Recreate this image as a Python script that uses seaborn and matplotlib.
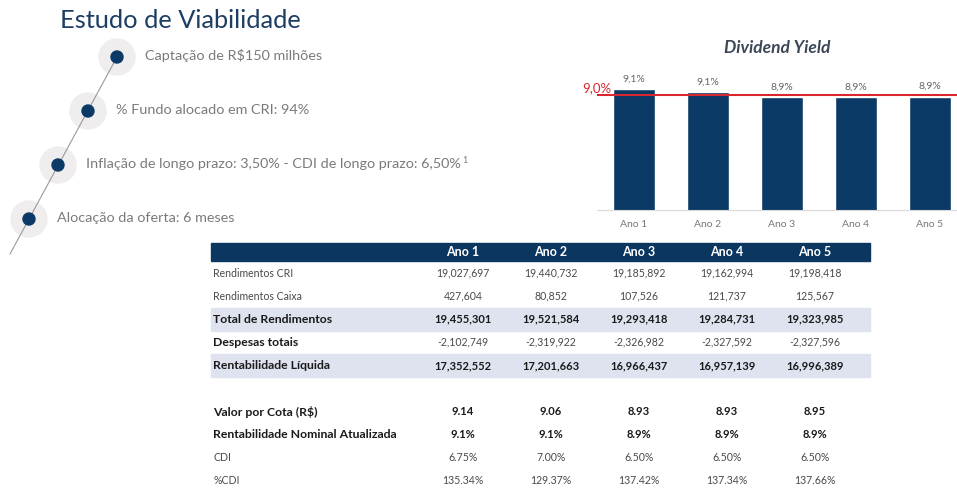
import matplotlib
matplotlib.use("Agg")
import matplotlib.pyplot as plt
import seaborn as sns
from matplotlib.patches import Circle, Rectangle

# --- DADOS ---
anos = ["Ano 1", "Ano 2", "Ano 3", "Ano 4", "Ano 5"]
dividend_yield = [9.14, 9.06, 8.93, 8.93, 8.95]
dy_rotulos = ["9,1%", "9,1%", "8,9%", "8,9%", "8,9%"]
dy_meta = 9.0
dy_meta_rotulo = "9,0%"

premissas = [
    "Captação de R$150 milhões",
    "% Fundo alocado em CRI: 94%",
    "Inflação de longo prazo: 3,50% - CDI de longo prazo: 6,50%",
    "Alocação da oferta: 6 meses",
]
nota_premissa = 2  # premissa com nota de rodape "1"

linhas_tabela = [
    "Rendimentos CRI", "Rendimentos Caixa", "Total de Rendimentos",
    "Despesas totais", "Rentabilidade Líquida", "",
    "Valor por Cota (R$)", "Rentabilidade Nominal Atualizada", "CDI", "%CDI",
]
rend_cri = ["19,027,697", "19,440,732", "19,185,892", "19,162,994", "19,198,418"]
rend_caixa = ["427,604", "80,852", "107,526", "121,737", "125,567"]
total_rend = ["19,455,301", "19,521,584", "19,293,418", "19,284,731", "19,323,985"]
despesas = ["-2,102,749", "-2,319,922", "-2,326,982", "-2,327,592", "-2,327,596"]
rent_liquida = ["17,352,552", "17,201,663", "16,966,437", "16,957,139", "16,996,389"]
valor_cota = ["9.14", "9.06", "8.93", "8.93", "8.95"]
rent_nominal = ["9.1%", "9.1%", "8.9%", "8.9%", "8.9%"]
cdi = ["6.75%", "7.00%", "6.50%", "6.50%", "6.50%"]
pct_cdi = ["135.34%", "129.37%", "137.42%", "137.34%", "137.66%"]
valores_tabela = [rend_cri, rend_caixa, total_rend, despesas, rent_liquida, None,
                  valor_cota, rent_nominal, cdi, pct_cdi]
rotulos_negrito = {2, 3, 4, 6, 7}
valores_negrito = {2, 4, 6, 7}
linhas_sombreadas = {2, 4}

# --- CORES ---
AZUL = "#0b3a66"
VERMELHO = "#d8272f"
CINZA_TXT = "#7a7a7a"
SOMBRA = "#dfe3f0"

sns.set_theme(style="white")
plt.rcParams["font.family"] = ["Lato", "DejaVu Sans"]

fig = plt.figure(figsize=(9.57, 4.9), dpi=100)

# camada de fundo em coordenadas de pixel
base = fig.add_axes([0, 0, 1, 1])
base.set_xlim(0, 957)
base.set_ylim(490, 0)
base.axis("off")

base.text(60, 20, "Estudo de Viabilidade", fontsize=18.3, color="#1d3d63",
          va="center", ha="left")

# linha do tempo das premissas
pontos = [(117, 57), (88, 111), (58, 165), (29, 219)]
base.plot([117, 10], [57, 254], color="#9a9a9a", lw=0.8, zorder=1)
for k, ((px, py), txt) in enumerate(zip(pontos, premissas)):
    base.add_patch(Circle((px, py), 18, color="#efedee", zorder=0))
    base.add_patch(Circle((px, py), 6, color=AZUL, zorder=2))
    t = base.text(px + 28, py - 1, txt, fontsize=10.4, color=CINZA_TXT,
                  va="center", ha="left")
    if k == nota_premissa:
        base.annotate("1", xy=(1, 0.8), xycoords=t, xytext=(1, 0),
                      textcoords="offset points", fontsize=6.5,
                      color=CINZA_TXT, ha="left", va="center")

# tabela
col_x = [463, 551, 639, 727, 815]
x_esq, x_dir = 211, 870
base.add_patch(Rectangle((x_esq, 243), x_dir - x_esq, 18, color="#0b3660", zorder=0))
for cx, ano in zip(col_x, anos):
    base.text(cx, 252, ano, fontsize=9, color="white", weight="bold",
              ha="center", va="center")

y0, passo = 273, 23.1
for i, (rotulo, vals) in enumerate(zip(linhas_tabela, valores_tabela)):
    y = y0 + i * passo
    if i in linhas_sombreadas:
        base.add_patch(Rectangle((x_esq, y - 11.5), x_dir - x_esq, 23,
                                 color=SOMBRA, zorder=0))
    if vals is None:
        continue
    if i in rotulos_negrito:
        base.text(213, y, rotulo, fontsize=8.8, weight="bold", color="#1a1a1a",
                  ha="left", va="center")
    else:
        base.text(213, y, rotulo, fontsize=7.6, color="#4a4a4a",
                  ha="left", va="center")
    for cx, v in zip(col_x, vals):
        if i in valores_negrito:
            base.text(cx, y, v, fontsize=8, weight="bold", color="#1a1a1a",
                      ha="center", va="center")
        else:
            base.text(cx, y, v, fontsize=7.6, color="#4a4a4a",
                      ha="center", va="center")

# grafico de barras do dividend yield
ax = fig.add_axes([597 / 957, (490 - 210) / 490, (957 - 597) / 957, 150 / 490])
ax.patch.set_alpha(0)
sns.barplot(x=anos, y=dividend_yield, color=AZUL, saturation=1, width=0.57, ax=ax)
ax.set_ylim(6.0, 9.9)
ax.set_xlim(-0.5, 4.37)
ax.axhline(dy_meta, color=VERMELHO, lw=1.5, zorder=3)
ax.annotate(dy_meta_rotulo, xy=(-0.5, dy_meta), xytext=(10, 0.5),
            textcoords="offset points", ha="right", va="bottom",
            color=VERMELHO, fontsize=9.5, annotation_clip=False)
for i, (v, lab) in enumerate(zip(dividend_yield, dy_rotulos)):
    ax.annotate(lab, xy=(i, v), xytext=(0, 4), textcoords="offset points",
                ha="center", va="bottom", fontsize=7.5, color="#666666")
ax.set_yticks([])
ax.set_ylabel("")
ax.tick_params(axis="x", length=0, pad=7, labelsize=7.5, labelcolor="#777777")
for lado in ["top", "right", "left"]:
    ax.spines[lado].set_visible(False)
ax.spines["bottom"].set_color("#d9d9d9")
ax.spines["bottom"].set_linewidth(0.8)
ax.set_title("Dividend Yield", fontsize=12.5, weight="bold", style="italic",
             color="#3b4757", pad=5)

fig.savefig("out.png", dpi=100)
